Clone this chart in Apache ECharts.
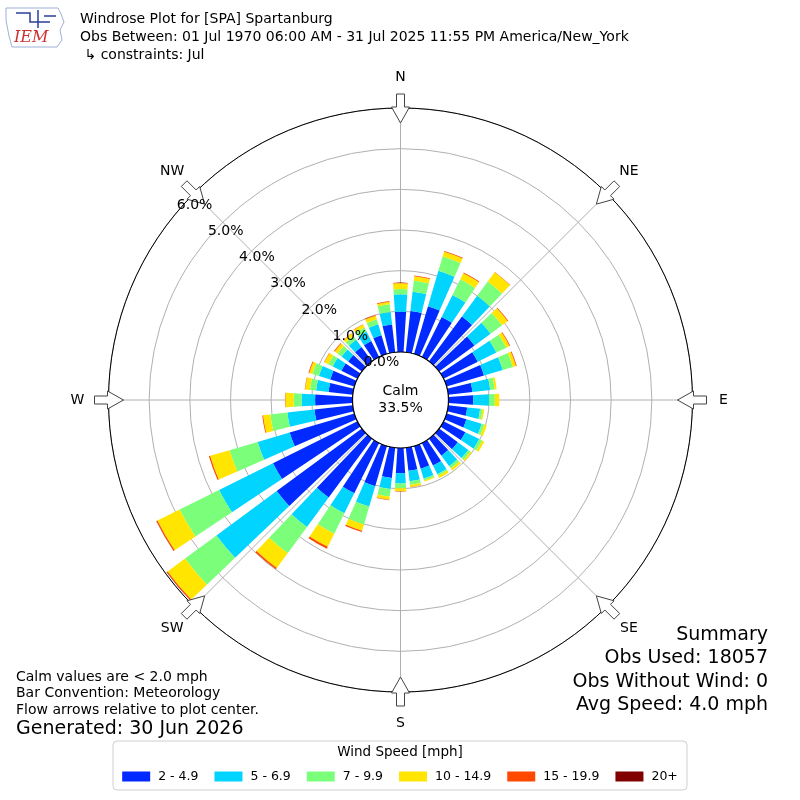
<!DOCTYPE html>
<html><head><meta charset="utf-8">
<script src="https://cdn.jsdelivr.net/npm/echarts@6/dist/echarts.min.js"></script>
<style>html,body{margin:0;padding:0;background:#fff}#c{width:800px;height:800px}</style>
</head><body><div id="c"></div>
<script>
// ---- data ----
const directions = ['0','10','20','30','40','50','60','70','80','90','100','110','120','130','140','150','160','170',
  '180','190','200','210','220','230','240','250','260','270','280','290','300','310','320','330','340','350'];
const speedBins = ['2 - 4.9','5 - 6.9','7 - 9.9','10 - 14.9','15 - 19.9','20+'];
const binColors = ['#002AFF','#00D4FF','#7BFF7B','#FFE500','#FF4800','#800000'];
const pct2to5 = [0.99,1.02,1.22,1.10,1.37,1.08,0.94,0.96,0.60,0.61,0.47,0.51,0.60,0.57,0.52,0.62,0.58,0.57,
  0.62,0.75,1.03,1.38,1.80,2.60,2.32,1.66,0.95,0.92,0.60,0.62,0.44,0.42,0.44,0.44,0.48,0.69];
const pct5to7 = [0.43,0.48,0.91,0.60,0.63,0.49,0.51,0.48,0.44,0.39,0.32,0.39,0.38,0.32,0.32,0.24,0.25,0.26,
  0.25,0.27,0.52,0.55,0.90,1.84,1.48,0.82,0.67,0.33,0.31,0.29,0.24,0.20,0.22,0.26,0.28,0.31];
const pct7to10 = [0.13,0.27,0.37,0.43,0.44,0.35,0.27,0.26,0.11,0.14,0.06,0.07,0.08,0.07,0.07,0.04,0.05,0.09,
  0.12,0.19,0.46,0.56,0.80,0.96,1.08,0.72,0.42,0.20,0.15,0.17,0.12,0.12,0.11,0.11,0.13,0.19];
const pct10to15 = [0.14,0.11,0.12,0.17,0.28,0.17,0.09,0.08,0.05,0.11,0.04,0.06,0.06,0.04,0.06,0.06,0.03,0.05,
  0.07,0.08,0.16,0.36,0.45,0.53,0.61,0.50,0.18,0.20,0.12,0.08,0.11,0.09,0.08,0.08,0.09,0.06];
const pct15to20 = [0.01,0.02,0.02,0.02,0.01,0.02,0.02,0.02,0,0,0,0,0,0,0,0,0,0.01,
  0.01,0.01,0.03,0.05,0.04,0.03,0.03,0.03,0.02,0.01,0.01,0.02,0.01,0.02,0.01,0.01,0.02,0.02];
const pct20plus = [0,0,0,0,0,0,0,0,0,0,0,0,0,0,0,0,0,0,
  0,0,0,0,0,0.005,0.005,0,0,0,0,0,0,0,0,0,0,0];
const radialTicks = [0,1,2,3,4,5,6];
const compassNames = ['N','NE','E','SE','S','SW','W','NW'];
const calmPct = 33.5;
const titleLines = ['Windrose Plot for [SPA] Spartanburg',
  'Obs Between: 01 Jul 1970 06:00 AM - 31 Jul 2025 11:55 PM America/New_York',
  ' \u21b3 constraints: Jul'];
const noteLines = ['Calm values are < 2.0 mph','Bar Convention: Meteorology','Flow arrows relative to plot center.'];
const generatedText = 'Generated: 30 Jun 2026';
const summaryLines = ['Summary','Obs Used: 18057','Obs Without Wind: 0','Avg Speed: 4.0 mph'];
const legendTitle = 'Wind Speed [mph]';

// ---- layout ----
const CX = 400.5, CY = 400, R0 = 48, R1 = 292;
const FONT = '"DejaVu Sans", sans-serif';
const seriesData = [pct2to5, pct5to7, pct7to10, pct10to15, pct15to20, pct20plus];

function pt(met, r, w) {
  const t = met * Math.PI / 180;
  return [CX + r * Math.sin(t) + w * Math.cos(t), CY - r * Math.cos(t) + w * Math.sin(t)];
}
function txt(text, x, y, size, align, extra) {
  return Object.assign({type:'text', z:100, style:{text:text, x:x, y:y, fill:'#000',
    font: size + 'px ' + FONT, textAlign:align, align:align, textVerticalAlign:'middle', verticalAlign:'middle'}}, extra||{});
}

const graphics = [];
// legend box
graphics.push({type:'rect', z:0, shape:{x:113, y:741, width:574, height:49, r:4}, style:{fill:'#fff', stroke:'#cfcfcf', lineWidth:1}});
graphics.push(txt(legendTitle, 400, 752, 13.5, 'center'));
// calm circle
graphics.push({type:'circle', z:100, shape:{cx:CX, cy:CY, r:R0}, style:{fill:'#fff', stroke:'#000', lineWidth:1.2}});
graphics.push(txt('Calm', CX, 391, 14, 'center'));
graphics.push(txt(calmPct.toFixed(1) + '%', CX, 408, 14, 'center'));
// compass labels and flow arrows
const arrowShape = [[306,-4],[293,-4],[293,-9],[277,0],[293,9],[293,4],[306,4]];
compassNames.forEach(function(name, i){
  const a = i * 45;
  const p = pt(a, 323, 0);
  graphics.push(txt(name, p[0], p[1], 14, 'center'));
  graphics.push({type:'polygon', z:101, shape:{points: arrowShape.map(function(q){return pt(a, q[0], q[1]);})},
    style:{fill:'#fff', stroke:'#444', lineWidth:1}});
});
// titles
titleLines.forEach(function(l, i){ graphics.push(txt(l, 80, 19 + i * 18, 14, 'left')); });
noteLines.forEach(function(l, i){ graphics.push(txt(l, 16, 677 + i * 16.5, 14, 'left')); });
graphics.push(txt(generatedText, 16, 729, 19, 'left'));
summaryLines.forEach(function(l, i){ graphics.push(txt(l, 768, 635 + i * 23.5, 19, 'right')); });
// IEM logo (simple)
graphics.push({type:'polygon', z:100, shape:{points:[[6,8],[58,8],[61,14],[64,22],[60,30],[62,40],[57,47],[12,47],[9,36],[6,20]]},
  style:{fill:'#fff', stroke:'#9fb0d6', lineWidth:1}});
graphics.push({type:'polyline', z:100, shape:{points:[[16,13],[30,13],[30,22],[50,22]]}, style:{stroke:'#2a3f9a', lineWidth:1.5, fill:null}});
graphics.push({type:'polyline', z:100, shape:{points:[[38,10],[38,28]]}, style:{stroke:'#2a3f9a', lineWidth:1.5, fill:null}});
graphics.push({type:'polyline', z:100, shape:{points:[[44,16],[56,16]]}, style:{stroke:'#2a3f9a', lineWidth:1.5, fill:null}});
graphics.push({type:'text', z:100, style:{text:'IEM', x:14, y:38, fill:'#d03030', font:'italic 16px "DejaVu Serif", serif', textVerticalAlign:'middle', verticalAlign:'middle'}});

const series = speedBins.map(function(name, i){
  return {name:name, type:'bar', coordinateSystem:'polar', polarIndex:0, stack:'wind',
    barCategoryGap:'27%', data:seriesData[i], itemStyle:{color:binColors[i]}, z:2, silent:true};
});

const option = {
  animation:false,
  backgroundColor:'#fff',
  polar:[
    {center:[CX, CY], radius:[R0, R1]},
    {center:[CX, CY], radius:[R0, R1]},
    {center:[CX, CY], radius:[R0, R1]}
  ],
  angleAxis:[
    {polarIndex:0, type:'category', data:directions, startAngle:95, clockwise:true, boundaryGap:true,
      axisLine:{show:false}, axisTick:{show:false}, axisLabel:{show:false}, splitLine:{show:false}},
    {polarIndex:1, type:'value', min:0, max:360, interval:45, startAngle:90, clockwise:true,
      axisLine:{show:true, lineStyle:{color:'#000', width:1}}, axisTick:{show:false}, axisLabel:{show:false},
      splitLine:{show:true, lineStyle:{color:'#b0b0b0', width:1}}},
    {polarIndex:2, type:'value', min:0, max:360, startAngle:140, clockwise:true,
      axisLine:{show:false}, axisTick:{show:false}, axisLabel:{show:false}, splitLine:{show:false}}
  ],
  radiusAxis:[
    {polarIndex:0, type:'value', min:radialTicks[0], max:radialTicks[radialTicks.length-1],
      axisLine:{show:false}, axisTick:{show:false}, axisLabel:{show:false}, splitLine:{show:false}},
    {polarIndex:1, type:'value', min:radialTicks[0], max:radialTicks[radialTicks.length-1], interval:1,
      axisLine:{show:false}, axisTick:{show:false}, axisLabel:{show:false},
      splitLine:{show:true, lineStyle:{color:'#b0b0b0', width:1}}},
    {polarIndex:2, type:'value', z:150, min:radialTicks[0], max:radialTicks[radialTicks.length-1], interval:1,
      axisLine:{show:false}, axisTick:{show:false}, splitLine:{show:false},
      axisLabel:{show:true, margin:0, align:'left', verticalAlign:'bottom', fontSize:14, color:'#000',
        fontFamily:'DejaVu Sans', showMinLabel:true, showMaxLabel:true,
        formatter:function(v){ return Number(v).toFixed(1) + '%'; }}}
  ],
  legend:{data:speedBins, left:'center', top:765, itemWidth:28, itemHeight:10, itemGap:16, icon:'rect',
    selectedMode:false, z:10, textStyle:{fontSize:12.5, color:'#000', fontFamily:'DejaVu Sans', padding:[0,0,0,3]}},
  graphic:{elements:graphics},
  series:series
};
const chart = echarts.init(document.getElementById('c'), null, {renderer:'canvas'});
chart.setOption(option);
</script>
</body></html>
